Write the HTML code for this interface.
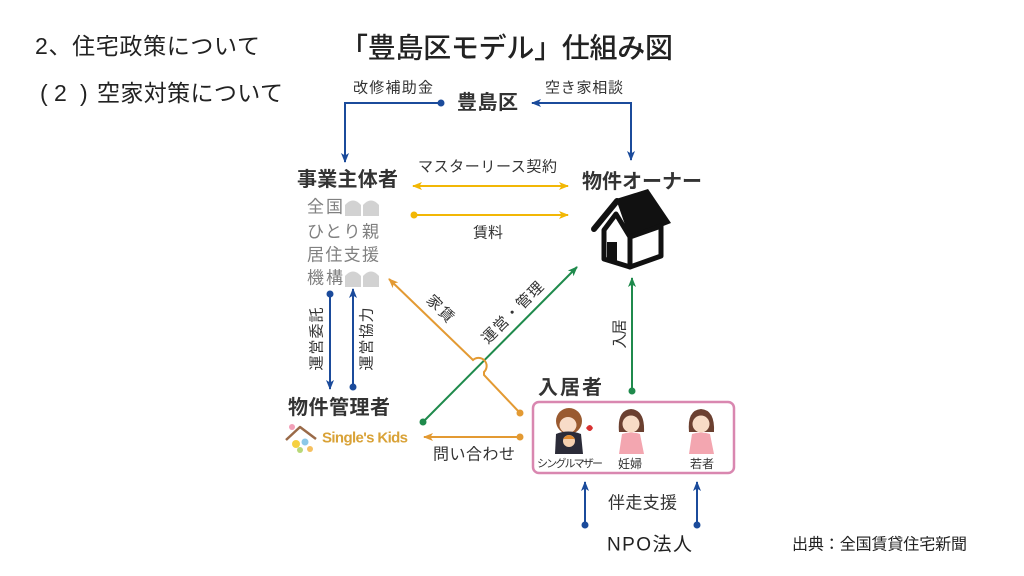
<!DOCTYPE html>
<html><head><meta charset="utf-8">
<style>
html,body{margin:0;padding:0;background:#fff;}
svg{display:block;}
text{font-family:"Liberation Sans","Noto Sans CJK JP",sans-serif;}
</style></head>
<body>
<svg width="1024" height="576" viewBox="0 0 1024 576" xmlns="http://www.w3.org/2000/svg">
<defs>
<marker id="aB" viewBox="0 0 10 10" refX="9" refY="5" markerWidth="10" markerHeight="10" markerUnits="userSpaceOnUse" orient="auto-start-reverse"><path d="M0,1 L10,5 L0,9 L2.5,5 z" fill="#1b4b9b"/></marker>
<marker id="aY" viewBox="0 0 10 10" refX="9" refY="5" markerWidth="10" markerHeight="10" markerUnits="userSpaceOnUse" orient="auto-start-reverse"><path d="M0,1 L10,5 L0,9 L2.5,5 z" fill="#f2b705"/></marker>
<marker id="aO" viewBox="0 0 10 10" refX="9" refY="5" markerWidth="10" markerHeight="10" markerUnits="userSpaceOnUse" orient="auto-start-reverse"><path d="M0,1 L10,5 L0,9 L2.5,5 z" fill="#e39a33"/></marker>
<marker id="aG" viewBox="0 0 10 10" refX="9" refY="5" markerWidth="10" markerHeight="10" markerUnits="userSpaceOnUse" orient="auto-start-reverse"><path d="M0,1 L10,5 L0,9 L2.5,5 z" fill="#1f8a4c"/></marker>
</defs>

<!-- header texts -->
<text x="35" y="46" font-size="23" fill="#222" dominant-baseline="central" textLength="225">2、住宅政策について</text>
<text x="40" y="93" font-size="23" fill="#222" dominant-baseline="central">(</text>
<text x="54" y="93" font-size="23" fill="#222" dominant-baseline="central">2</text>
<text x="80" y="93" font-size="23" fill="#222" dominant-baseline="central">)</text>
<text x="97" y="93" font-size="23" fill="#222" dominant-baseline="central" textLength="186">空家対策について</text>
<text x="340" y="48" font-size="28" font-weight="500" fill="#222" dominant-baseline="central" textLength="333">「豊島区モデル」仕組み図</text>

<!-- top: 豊島区 -->
<text x="457" y="103" font-size="20" font-weight="bold" fill="#333" dominant-baseline="central" textLength="61">豊島区</text>
<text x="353" y="88" font-size="15" fill="#333" dominant-baseline="central" textLength="80">改修補助金</text>
<text x="545" y="88" font-size="15" fill="#333" dominant-baseline="central" textLength="78">空き家相談</text>
<path d="M441,103 H345 V162" fill="none" stroke="#1b4b9b" stroke-width="2" marker-end="url(#aB)"/>
<circle cx="441" cy="103" r="3.5" fill="#1b4b9b"/>
<path d="M631,160 V103 H532" fill="none" stroke="#1b4b9b" stroke-width="2" marker-start="url(#aB)" marker-end="url(#aB)"/>

<!-- 事業主体者 -->
<text x="297" y="180" font-size="20" font-weight="bold" fill="#333" dominant-baseline="central" textLength="101">事業主体者</text>
<text x="307" y="207" font-size="17" fill="#808080" dominant-baseline="central" textLength="36">全国</text>
<text x="307" y="232" font-size="17" fill="#808080" dominant-baseline="central" textLength="72">ひとり親</text>
<text x="307" y="255" font-size="17" fill="#808080" dominant-baseline="central" textLength="72">居住支援</text>
<text x="307" y="278" font-size="17" fill="#808080" dominant-baseline="central" textLength="36">機構</text>
<path d="M345,216 V205 Q353,196 361,205 V216 Z" fill="#d2d2d2"/>
<path d="M363,216 V205 Q371,196 379,205 V216 Z" fill="#d2d2d2"/>
<path d="M345,287 V276 Q353,267 361,276 V287 Z" fill="#d2d2d2"/>
<path d="M363,287 V276 Q371,267 379,276 V287 Z" fill="#d2d2d2"/>

<!-- 物件オーナー -->
<text x="582" y="182" font-size="20" font-weight="bold" fill="#333" dominant-baseline="central" textLength="120">物件オーナー</text>

<!-- yellow arrows -->
<text x="418" y="167" font-size="15" fill="#333" dominant-baseline="central" textLength="139">マスターリース契約</text>
<line x1="413" y1="186" x2="568" y2="186" stroke="#f2b705" stroke-width="2" marker-start="url(#aY)" marker-end="url(#aY)"/>
<line x1="414" y1="215" x2="568" y2="215" stroke="#f2b705" stroke-width="2" marker-end="url(#aY)"/>
<circle cx="414" cy="215" r="3.5" fill="#f2b705"/>
<text x="473" y="233" font-size="15" fill="#333" dominant-baseline="central" textLength="30">賃料</text>

<!-- house icon -->
<polygon points="616,199 648,189 671,223 630,239" fill="#111"/>
<line x1="617" y1="201" x2="594" y2="229" stroke="#111" stroke-width="6" stroke-linecap="round"/>
<polygon points="604,230 616,214 630,237 630,267 604,259" fill="#fff" stroke="#111" stroke-width="5" stroke-linejoin="round"/>
<polygon points="630,237 661,226 661,256 630,267" fill="#fff" stroke="#111" stroke-width="5" stroke-linejoin="round"/>
<rect x="607" y="242" width="10" height="20" fill="#111"/>

<!-- 運営委託 / 運営協力 -->
<line x1="330" y1="294" x2="330" y2="389" stroke="#1b4b9b" stroke-width="2" marker-end="url(#aB)"/>
<circle cx="330" cy="294" r="3.5" fill="#1b4b9b"/>
<line x1="353" y1="387" x2="353" y2="289" stroke="#1b4b9b" stroke-width="2" marker-end="url(#aB)"/>
<circle cx="353" cy="387" r="3.5" fill="#1b4b9b"/>
<text x="0" y="0" font-size="15" fill="#333" dominant-baseline="central" text-anchor="middle" textLength="63" transform="translate(317,339) rotate(-90)">運営委託</text>
<text x="0" y="0" font-size="15" fill="#333" dominant-baseline="central" text-anchor="middle" textLength="63" transform="translate(367,339) rotate(-90)">運営協力</text>

<!-- green diagonal 運営・管理 -->
<line x1="423" y1="422" x2="577" y2="267" stroke="#1f8a4c" stroke-width="2" marker-end="url(#aG)"/>
<circle cx="423" cy="422" r="3.5" fill="#1f8a4c"/>
<text x="0" y="0" font-size="15" fill="#333" dominant-baseline="central" text-anchor="middle" textLength="80" transform="translate(513,313) rotate(-45)">運営・管理</text>

<!-- orange diagonal 家賃 with hop -->
<path d="M520,413 L484,375 L484,372 A7,7 0 0 0 473,360 L389,279" fill="none" stroke="#e39a33" stroke-width="2" marker-end="url(#aO)"/>
<circle cx="520" cy="413" r="3.5" fill="#e39a33"/>
<text x="0" y="0" font-size="15" fill="#333" dominant-baseline="central" text-anchor="middle" textLength="32" transform="translate(440,309) rotate(45)">家賃</text>

<!-- green vertical 入居 -->
<line x1="632" y1="391" x2="632" y2="278" stroke="#1f8a4c" stroke-width="2" marker-end="url(#aG)"/>
<circle cx="632" cy="391" r="3.5" fill="#1f8a4c"/>
<text x="0" y="0" font-size="15" fill="#333" dominant-baseline="central" text-anchor="middle" textLength="29" transform="translate(620,334) rotate(-90)">入居</text>

<!-- 物件管理者 -->
<text x="288" y="408" font-size="20" font-weight="bold" fill="#333" dominant-baseline="central" textLength="102">物件管理者</text>
<!-- Single's Kids logo -->
<path d="M286,440 L300,427 L316,439" fill="none" stroke="#9a6a48" stroke-width="2.5" stroke-linejoin="round"/>
<circle cx="292" cy="427" r="3" fill="#f2a0b8"/>
<circle cx="296" cy="444" r="4" fill="#f5d040"/>
<circle cx="305" cy="442" r="3.5" fill="#8cc8e8"/>
<circle cx="300" cy="450" r="3" fill="#b8d878"/>
<circle cx="310" cy="449" r="3" fill="#f5c060"/>
<text x="322" y="438" font-size="15" font-weight="bold" fill="#d9a237" dominant-baseline="central" textLength="86">Single's Kids</text>

<!-- 問い合わせ -->
<line x1="520" y1="437" x2="424" y2="437" stroke="#e39a33" stroke-width="2" marker-end="url(#aO)"/>
<circle cx="520" cy="437" r="3.5" fill="#e39a33"/>
<text x="433" y="455" font-size="16" fill="#333" dominant-baseline="central" textLength="82">問い合わせ</text>

<!-- 入居者 -->
<text x="538" y="388" font-size="20" font-weight="bold" fill="#333" dominant-baseline="central" textLength="64">入居者</text>
<rect x="533" y="402" width="201" height="71" rx="6" fill="#fff" stroke="#d987b0" stroke-width="2.5"/>

<!-- single mother -->
<ellipse cx="569" cy="421" rx="13" ry="13" fill="#9a5a30"/>
<ellipse cx="568" cy="425" rx="8.5" ry="8" fill="#f8dcc8"/>
<path d="M556,434 Q568,429 581,434 L583,454 L555,454 Z" fill="#2b2b38"/>
<circle cx="569" cy="441" r="6" fill="#f5d0b0"/>
<path d="M563,439 Q569,431 575,439 Z" fill="#e08a30"/>
<path d="M586,428 Q590,422 593,428 Q590,434 586,428 Z" fill="#d83030"/>
<text x="537" y="464" font-size="11" fill="#333" dominant-baseline="central" textLength="66">シングルマザー</text>

<!-- pregnant -->
<path d="M619,432 Q617,410 631,409 Q645,410 644,432 Z" fill="#6b4030"/>
<ellipse cx="631" cy="424" rx="8.5" ry="8.5" fill="#f7dcc6"/>
<path d="M622,434 Q631,431 640,434 L644,454 L619,454 Z" fill="#f3a6b0"/>
<text x="618" y="464" font-size="12" fill="#333" dominant-baseline="central" textLength="24">妊婦</text>

<!-- young -->
<path d="M689,432 Q687,410 701,409 Q715,410 714,432 Z" fill="#6b4030"/>
<ellipse cx="701" cy="424" rx="8.5" ry="8.5" fill="#f7dcc6"/>
<path d="M692,434 Q701,431 710,434 L714,454 L689,454 Z" fill="#f3a6b0"/>
<text x="690" y="464" font-size="12" fill="#333" dominant-baseline="central" textLength="24">若者</text>

<!-- NPO -->
<line x1="585" y1="525" x2="585" y2="482" stroke="#1b4b9b" stroke-width="2" marker-end="url(#aB)"/>
<circle cx="585" cy="525" r="3.5" fill="#1b4b9b"/>
<line x1="697" y1="525" x2="697" y2="482" stroke="#1b4b9b" stroke-width="2" marker-end="url(#aB)"/>
<circle cx="697" cy="525" r="3.5" fill="#1b4b9b"/>
<text x="608" y="503" font-size="17" fill="#333" dominant-baseline="central" textLength="69">伴走支援</text>
<text x="607" y="545" font-size="19" fill="#222" dominant-baseline="central" textLength="85">NPO法人</text>

<!-- source -->
<text x="792" y="545" font-size="16" fill="#222" dominant-baseline="central" textLength="175">出典：全国賃貸住宅新聞</text>
</svg>
</body></html>
